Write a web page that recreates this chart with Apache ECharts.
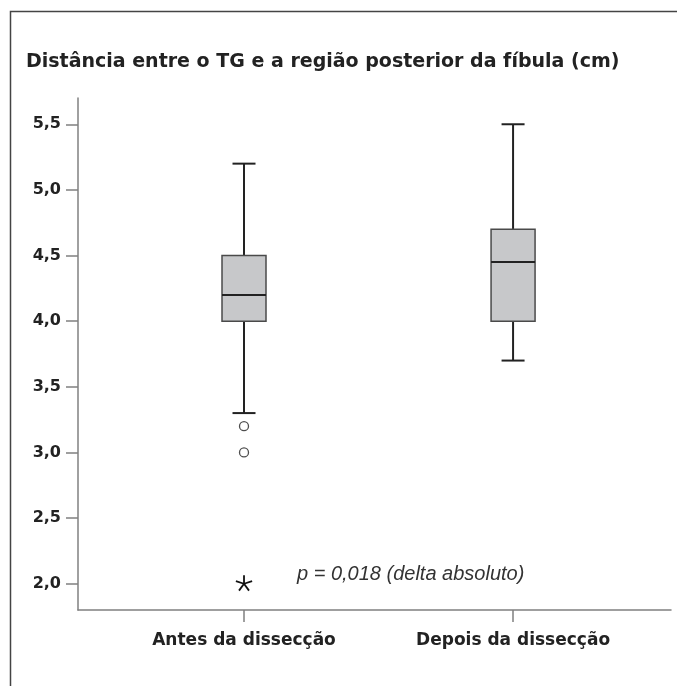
<!DOCTYPE html>
<html>
<head>
<meta charset="utf-8">
<script src="https://cdn.jsdelivr.net/npm/echarts@6/dist/echarts.min.js"></script>
<style>
html,body{margin:0;padding:0;background:#fff;}
#chart{width:677px;height:686px;}
</style>
</head>
<body>
<div id="chart"></div>
<script>
// ---- data ----
var categories = ['Antes da dissecção', 'Depois da dissecção'];
var lowWhisker = [3.3, 3.7];
var q1 = [4.0, 4.0];
var median = [4.2, 4.45];
var q3 = [4.5, 4.7];
var highWhisker = [5.2, 5.5];
var outlierPoints = [[0, 3.2], [0, 3.0]];
var extremePoints = [[0, 2.0]];
var yTicks = [2.0, 2.5, 3.0, 3.5, 4.0, 4.5, 5.0, 5.5];
var titleText = 'Distância entre o TG e a região posterior da fíbula (cm)';
var pText = 'p = 0,018 (delta absoluto)';

var boxData = categories.map(function (c, i) {
  return [i, lowWhisker[i], q1[i], median[i], q3[i], highWhisker[i]];
});

var boldFont = 'DejaVu Sans';
var chart = echarts.init(document.getElementById('chart'), null, {renderer: 'canvas'});

function renderBox(params, api) {
  var x = api.value(0);
  var pLow = api.coord([x, api.value(1)]);
  var pQ1 = api.coord([x, api.value(2)]);
  var pMed = api.coord([x, api.value(3)]);
  var pQ3 = api.coord([x, api.value(4)]);
  var pHigh = api.coord([x, api.value(5)]);
  var cx = pLow[0];
  var bh = 22, ch = 11.5;
  var lineStyle = {stroke: '#222', lineWidth: 2};
  return {
    type: 'group',
    children: [
      {type: 'line', shape: {x1: cx, y1: pLow[1], x2: cx, y2: pQ1[1]}, style: lineStyle},
      {type: 'line', shape: {x1: cx, y1: pQ3[1], x2: cx, y2: pHigh[1]}, style: lineStyle},
      {type: 'line', shape: {x1: cx - ch, y1: pLow[1], x2: cx + ch, y2: pLow[1]}, style: lineStyle},
      {type: 'line', shape: {x1: cx - ch, y1: pHigh[1], x2: cx + ch, y2: pHigh[1]}, style: lineStyle},
      {type: 'rect', shape: {x: cx - bh, y: pQ3[1], width: bh * 2, height: pQ1[1] - pQ3[1]},
        style: {fill: '#c7c8ca', stroke: '#4a4a4a', lineWidth: 1.5}},
      {type: 'line', shape: {x1: cx - bh, y1: pMed[1], x2: cx + bh, y2: pMed[1]}, style: {stroke: '#222', lineWidth: 2}}
    ]
  };
}

function renderStar(params, api) {
  var p = api.coord([api.value(0), api.value(1)]);
  var r = 8.5;
  var children = [];
  for (var k = 0; k < 5; k++) {
    var a = k * 2 * Math.PI / 5;
    children.push({
      type: 'line',
      shape: {x1: p[0], y1: p[1], x2: p[0] + r * Math.sin(a), y2: p[1] - r * Math.cos(a)},
      style: {stroke: '#111', lineWidth: 1.8}
    });
  }
  return {type: 'group', children: children};
}

var option = {
  backgroundColor: '#fff',
  animation: false,
  title: {
    text: titleText,
    left: 26,
    top: 53,
    padding: 0,
    textStyle: {fontFamily: boldFont, fontWeight: 'bold', fontSize: 19, color: '#222'}
  },
  graphic: [
    {type: 'rect', shape: {x: 10.5, y: 11.5, width: 800, height: 800},
      style: {fill: 'none', stroke: '#444', lineWidth: 1.5}, silent: true},
    {type: 'text', left: 297, top: 564,
      style: {text: pText, font: 'italic 20px "Liberation Sans", Arial, sans-serif', fill: '#333'}}
  ],
  grid: {left: 78, right: 6, top: 98, bottom: 76, containLabel: false},
  xAxis: {
    type: 'value',
    min: -0.617,
    max: 1.587,
    splitLine: {show: false},
    axisLine: {show: true, onZero: false, lineStyle: {color: '#808080', width: 1.5}},
    axisTick: {show: true, customValues: [0, 1], length: 12, inside: false, lineStyle: {color: '#808080', width: 1.5}},
    axisLabel: {
      show: true,
      customValues: [0, 1],
      margin: 22,
      fontFamily: boldFont, fontWeight: 'bold', fontSize: 17, color: '#222',
      formatter: function (v) { return categories[Math.round(v)]; }
    }
  },
  yAxis: {
    type: 'value',
    min: 1.8,
    max: 5.7,
    splitLine: {show: false},
    axisLine: {show: true, onZero: false, lineStyle: {color: '#808080', width: 1.5}},
    axisTick: {show: true, customValues: yTicks, length: 12, inside: false, lineStyle: {color: '#808080', width: 1.5}},
    axisLabel: {
      show: true,
      customValues: yTicks,
      margin: 17,
      fontFamily: boldFont, fontWeight: 'bold', fontSize: 16, color: '#222',
      formatter: function (v) { return v.toFixed(1).replace('.', ','); }
    }
  },
  series: [
    {
      type: 'custom',
      renderItem: renderBox,
      encode: {x: 0, y: [1, 2, 3, 4, 5]},
      data: boxData,
      clip: false,
      z: 2
    },
    {
      type: 'scatter',
      data: outlierPoints,
      symbol: 'circle',
      symbolSize: 9,
      itemStyle: {color: '#fff', borderColor: '#222', borderWidth: 1.3},
      z: 3
    },
    {
      type: 'custom',
      renderItem: renderStar,
      encode: {x: 0, y: 1},
      data: extremePoints,
      clip: false,
      z: 3
    }
  ]
};
chart.setOption(option);
</script>
</body>
</html>
